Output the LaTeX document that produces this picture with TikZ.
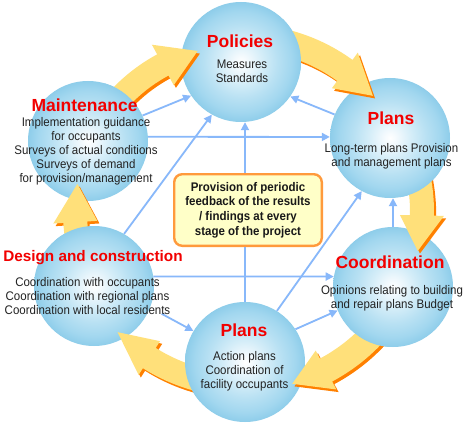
\documentclass[tikz,border=0pt]{standalone}
\usepackage{fontspec}
\setmainfont{Liberation Sans}
\newfontfamily\narrowfont[FakeStretch=0.92]{Liberation Sans}
\usetikzlibrary{arrows.meta}
\definecolor{ballA}{HTML}{F2F9FD}
\definecolor{ballB}{HTML}{D4EDF8}
\definecolor{ballC}{HTML}{B9E1F3}
\definecolor{ballD}{HTML}{A2D7EF}
\definecolor{ballE}{HTML}{8ECDEA}
\definecolor{arrowyellow}{HTML}{FFE07A}
\definecolor{shadoworange}{HTML}{FF8000}
\definecolor{linkblue}{HTML}{88B8FA}
\definecolor{boxorange}{HTML}{FF9A3C}
\definecolor{boxfill}{HTML}{FFFFC8}
\definecolor{titlered}{HTML}{F20000}
\definecolor{bodygray}{HTML}{222222}
\pgfdeclareradialshading{bubbleshade}{\pgfpoint{0bp}{0bp}}{color(0bp)=(white);color(3bp)=(ballA);color(9bp)=(ballB);color(15bp)=(ballC);color(21bp)=(ballD);color(25bp)=(ballE);color(50bp)=(ballE)}
% #1 radius, #2 start angle, #3 head-base angle, #4 tip angle, #5 shaft half width, #6 head half width, #7 source node
\newcommand\bigarrow[7]{%
  \pgfmathsetmacro\ro{#1+#5}\pgfmathsetmacro\ri{#1-#5}%
  \pgfmathsetmacro\rh{#1+#6}\pgfmathsetmacro\rl{#1-#6}%
  \pgfmathsetmacro\co{#1+#5+9}\pgfmathsetmacro\ci{#1-#5-9}%
  \pgfmathsetmacro\aS{#2+8}%
  \begin{scope}[shift={(ctr)}]
    \fill[shadoworange, shift={(2.2,-2.6)}] (#2:\ro) arc[start angle=#2,end angle=#3,radius=\ro] -- (#3:\rh) -- (#4:#1) -- (#3:\rl) -- (#3:\ri) arc[start angle=#3,end angle=#2,radius=\ri] -- cycle;
    \fill[arrowyellow] (#2:\ro) arc[start angle=#2,end angle=#3,radius=\ro] -- (#3:\rh) -- (#4:#1) -- (#3:\rl) -- (#3:\ri) arc[start angle=#3,end angle=#2,radius=\ri] -- cycle;
    \begin{scope}
      \clip (\aS:\co) arc[start angle=\aS,end angle=#3,radius=\co] -- (#3:\ci) arc[start angle=#3,end angle=\aS,radius=\ci] -- cycle;
      \shade[shading=bubbleshade] (#7.center) circle[radius=60];
    \end{scope}
  \end{scope}}
\tikzset{
  bubble/.style={circle, minimum size=120pt, inner sep=0pt, shade, shading=bubbleshade},
  title/.style={text=titlered, font={\bfseries\fontsize{17.5}{20}\selectfont}, inner sep=0pt},
  body/.style={text=bodygray, font={\narrowfont\fontsize{12.5}{14}\selectfont}, align=center, inner sep=0pt},
  link/.style={draw=linkblue, line width=1.8pt, -{Triangle[length=8pt,width=8pt]}},
  plainlink/.style={draw=linkblue, line width=1.8pt},
  fbbox/.style={draw=boxorange, line width=2.4pt, fill=boxfill, rounded corners=8pt,
    minimum width=147.6pt, minimum height=71.6pt, inner sep=0pt, align=center, text=black!90,
    font={\narrowfont\bfseries\fontsize{12.5}{14.8}\selectfont}}
}
\begin{document}
\begin{tikzpicture}[x=1pt,y=1pt]
\useasboundingbox (0,0) rectangle (469,424);
\fill[white] (0,0) rectangle (469,424);
\coordinate (ctr) at (242,212);
% circles
\node[bubble] (pol) at (241,362) {};
\node[bubble] (plr) at (390,286) {};
\node[bubble] (coo) at (393,137) {};
\node[bubble] (plb) at (245,62) {};
\node[bubble] (des) at (94,138) {};
\node[bubble] (mai) at (88,283) {};
% big cycle arrows
\bigarrow{167}{150}{118.3}{105.4}{12}{23}{mai}
\bigarrow{175}{85}{54}{41.6}{13}{22}{pol}
\bigarrow{180}{20}{-1.1}{-12.5}{12}{22}{plr}
\bigarrow{179}{-35}{-62}{-73.7}{13}{22}{coo}
\bigarrow{173}{-95}{-122.4}{-136}{12}{20}{plb}
\bigarrow{167}{205}{183.5}{170.3}{12}{22}{des}
% feedback box
\node[fbbox] (fb) at (248,214) {Provision of periodic\\feedback of the results\\/ findings at every\\stage of the project};
% thin blue links
\draw[link] (mai.25) -- (pol.214);
\draw[link] (mai.4) -- (plr.179);
\draw[link] (des.60) -- (pol.241);
\draw[link] (plb.north |- fb.north) -- (plb.north |- pol.south);
\draw[link] (plr.157) -- (pol.325);
\draw[link] (plb.58) -- (plr.242);
\draw[link] (coo.north) -- (coo.north |- plr.south);
\draw[link] (des.9) -- (coo.170);
\draw[link, shorten <=13pt] (des.339) -- (plb.149);
\draw[link] (plb.33) -- (coo.203);
\draw[plainlink] (plb.north) -- (plb.north |- fb.south);
% texts
\node[title] (polT) at (240,382.3) {Policies};
\node[body] (polB) at (242,352.3) {Measures\\Standards};
\node[title] (maiT) at (84.5,318.5) {Maintenance};
\node[body] (maiB) at (86,272.3) {Implementation guidance\\for occupants\\Surveys of actual conditions\\Surveys of demand\\for provision/management};
\node[title] (plrT) at (391,306.2) {Plans};
\node[body] (plrB) at (391.5,267.3) {Long-term plans Provision\\and management plans};
\node[title, font={\bfseries\fontsize{15.3}{18}\selectfont}] (desT) at (93,166.5) {Design and construction};
\node[body] (desB) at (87.5,128.2) {Coordination with occupants\\Coordination with regional plans\\Coordination with local residents};
\node[title] (cooT) at (390,161.7) {Coordination};
\node[body] (cooB) at (392,125.3) {Opinions relating to building\\and repair plans Budget};
\node[title] (plbT) at (244,94) {Plans};
\node[body] (plbB) at (244.5,52.3) {Action plans\\Coordination of\\facility occupants};
\end{tikzpicture}
\end{document}
